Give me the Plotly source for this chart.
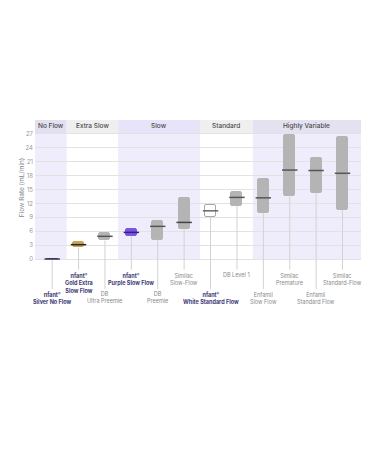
import plotly.graph_objects as go

# ---- data ----
categories = ["nfant Silver No Flow", "nfant Gold Extra Slow Flow", "DB Ultra Preemie",
              "nfant Purple Slow Flow", "DB Preemie", "Similac Slow-Flow",
              "nfant White Standard Flow", "DB Level 1", "Enfamil Slow Flow",
              "Similac Premature", "Enfamil Standard Flow", "Similac Standard-Flow"]
label_text = ["<b>nfant<sup>®</sup><br>Silver No Flow</b>",
              "<b>nfant<sup>®</sup><br>Gold Extra<br>Slow Flow</b>",
              "DB<br>Ultra Preemie",
              "<b>nfant<sup>®</sup><br>Purple Slow Flow</b>",
              "DB<br>Preemie",
              "Similac<br>Slow-Flow",
              "<b>nfant<sup>®</sup><br>White Standard Flow</b>",
              "DB Level 1",
              "Enfamil<br>Slow Flow",
              "Similac<br>Premature",
              "Enfamil<br>Standard Flow",
              "Similac<br>Standard-Flow"]
is_brand = [True, True, False, True, False, False, True, False, False, False, False, False]
q1 = [0, 2.5, 4.0, 5.0, 4.2, 6.5, 9.1, 11.4, 9.9, 13.5, 14.2, 10.6]
median = [0, 3.1, 4.9, 5.75, 7.05, 7.9, 10.4, 13.3, 13.2, 19.2, 19.1, 18.5]
q3 = [0, 3.7, 5.7, 6.5, 8.2, 13.2, 11.7, 14.5, 17.3, 26.8, 21.8, 26.4]
box_fill = ["#3b3a5a", "#c9a55b", "#b4b4b4", "#7b55e0", "#b4b4b4", "#b4b4b4",
            "#ffffff", "#b4b4b4", "#b4b4b4", "#b4b4b4", "#b4b4b4", "#b4b4b4"]
box_outline = ["#3b3a5a", "#c9a55b", "#b4b4b4", "#7b55e0", "#b4b4b4", "#b4b4b4",
               "#a8a8a8", "#b4b4b4", "#b4b4b4", "#b4b4b4", "#b4b4b4", "#b4b4b4"]
median_color = ["#3b3a5a", "#2e2616", "#555555", "#33207f", "#555555", "#444444",
                "#666666", "#555555", "#555555", "#555555", "#555555", "#555555"]

groups = ["No Flow", "Extra Slow", "Slow", "Standard", "Highly Variable"]
group_edges = [-0.65, 0.55, 2.5, 5.6, 7.6, 11.7]
group_band = ["#efecfb", "#ffffff", "#efecfb", "#ffffff", "#efecfb"]
group_header = ["#e3dff3", "#efefef", "#e7e3f8", "#efefef", "#e4e1f1"]

y_ticks = [0, 3, 6, 9, 12, 15, 18, 21, 24, 27]

# label rows (upper / lower), in axis units below zero
row_top = [-6.5 if i % 2 == 0 else -2.3 for i in range(len(categories))]

FONT = "Inter"
xs = list(range(len(categories)))
box_w = 0.42

fig = go.Figure()

# leader lines
lx, ly = [], []
for i in xs:
    lx += [i, i, None]
    ly += [q1[i], row_top[i], None]
fig.add_trace(go.Scatter(x=lx, y=ly, mode="lines",
                         line=dict(color="#d2d2d2", width=1),
                         hoverinfo="skip", showlegend=False))

# boxes
fig.add_trace(go.Bar(x=xs, base=q1, y=[b - a for a, b in zip(q1, q3)],
                     width=box_w,
                     marker=dict(color=box_fill,
                                 line=dict(color=box_outline, width=1),
                                 cornerradius=2),
                     showlegend=False, hoverinfo="skip"))

# medians
fig.add_trace(go.Scatter(x=xs, y=median, mode="markers",
                         marker=dict(symbol="line-ew", size=11,
                                     line=dict(color=median_color, width=1.5)),
                         showlegend=False, hoverinfo="skip"))

shapes = []
annotations = []
for g in range(len(groups)):
    if group_band[g] != "#ffffff":
        shapes.append(dict(type="rect", xref="x", yref="y", x0=group_edges[g],
                           x1=group_edges[g + 1], y0=0, y1=27.2,
                           fillcolor=group_band[g], line=dict(width=0), layer="below"))
    shapes.append(dict(type="rect", xref="x", yref="y", x0=group_edges[g],
                       x1=group_edges[g + 1], y0=27.2, y1=30,
                       fillcolor=group_header[g], line=dict(width=0), layer="below"))
    annotations.append(dict(x=(group_edges[g] + group_edges[g + 1]) / 2, y=28.6,
                            xref="x", yref="y", text=groups[g], showarrow=False,
                            font=dict(family=FONT, size=6.5, color="#4a4a4a", weight=500)))

for i in xs:
    annotations.append(dict(x=i, y=row_top[i], xref="x", yref="y", yanchor="top",
                            text=label_text[i], showarrow=False, align="center",
                            font=dict(family=FONT, size=5.5,
                                      color="#3d3a78" if is_brand[i] else "#8a8a8a")))

annotations.append(dict(x=-0.058, y=15.3, xref="paper", yref="y",
                        text="Flow Rate (mL/min)", textangle=-90, showarrow=False,
                        font=dict(family=FONT, size=6.5, color="#888888")))

fig.update_layout(
    width=375, height=450,
    margin=dict(l=27, r=22, t=112, b=148),
    paper_bgcolor="#ffffff", plot_bgcolor="rgba(0,0,0,0)",
    shapes=shapes, annotations=annotations,
    bargap=0,
    xaxis=dict(range=[-0.65, 11.7], showticklabels=False, showgrid=False,
               zeroline=False, fixedrange=True),
    yaxis=dict(range=[-11, 30], tickvals=y_ticks, ticktext=[str(v) for v in y_ticks],
               showgrid=True, gridcolor="#e2e2e2", gridwidth=1, zeroline=False,
               tickfont=dict(family=FONT, size=6, color="#999999"), ticks="",
               ticklabelstandoff=1),
    font=dict(family=FONT),
)

fig.write_html("out.html")
